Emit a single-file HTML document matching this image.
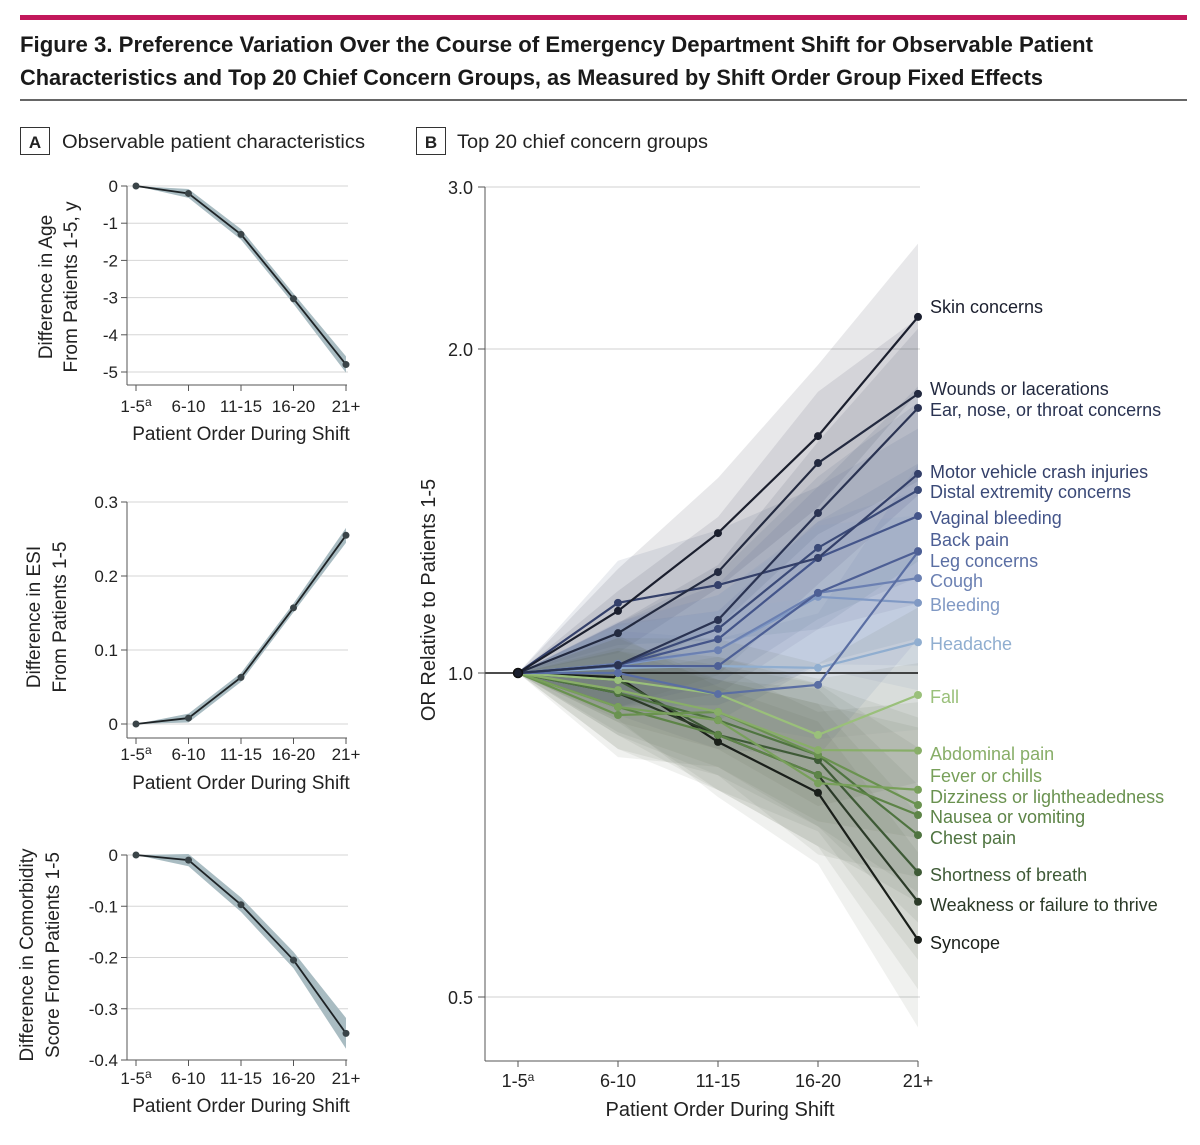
<!DOCTYPE html>
<html><head><meta charset="utf-8"><style>
body{margin:0;background:#fff;}
svg{display:block;font-family:"Liberation Sans",sans-serif;}
</style></head><body>
<svg id="fig" width="1200" height="1145" viewBox="0 0 1200 1145" xmlns="http://www.w3.org/2000/svg">
<rect x="20" y="15" width="1167" height="5" fill="#c2185b"/>
<text x="20" y="52" font-size="22" font-weight="bold" fill="#1a1a1a" textLength="1073" lengthAdjust="spacingAndGlyphs">Figure 3. Preference Variation Over the Course of Emergency Department Shift for Observable Patient</text>
<text x="20" y="85" font-size="22" font-weight="bold" fill="#1a1a1a" textLength="1023" lengthAdjust="spacingAndGlyphs">Characteristics and Top 20 Chief Concern Groups, as Measured by Shift Order Group Fixed Effects</text>
<line x1="20" y1="100" x2="1187" y2="100" stroke="#333" stroke-width="1.5"/>
<g>
<rect x="20.5" y="127.5" width="29" height="27" fill="#fff" stroke="#333"/>
<text x="35" y="148" font-size="17" font-weight="bold" text-anchor="middle" fill="#222">A</text>
<text x="62" y="148" font-size="19" fill="#222" textLength="303" lengthAdjust="spacingAndGlyphs">Observable patient characteristics</text>
</g>
<g>
<rect x="416.5" y="127.5" width="29" height="27" fill="#fff" stroke="#333"/>
<text x="431" y="148" font-size="17" font-weight="bold" text-anchor="middle" fill="#222">B</text>
<text x="457" y="148" font-size="19" fill="#222" textLength="251" lengthAdjust="spacingAndGlyphs">Top 20 chief concern groups</text>
</g>
<g id="pa"></g>
<g id="pb"></g>
</svg>
<script>
const NS='http://www.w3.org/2000/svg';
const categories=['1-5','6-10','11-15','16-20','21+'];
const ageValues=[0,-0.2,-1.3,-3.03,-4.8];
const ageCI=[0,0.12,0.14,0.14,0.22];
const ageTicks=[0,-1,-2,-3,-4,-5];
const esiValues=[0,0.008,0.063,0.157,0.255];
const esiCI=[0,0.006,0.006,0.006,0.01];
const esiTicks=[0,0.1,0.2,0.3];
const comValues=[0,-0.01,-0.097,-0.205,-0.348];
const comCI=[0,0.012,0.014,0.016,0.03];
const comTicks=[0,-0.1,-0.2,-0.3,-0.4];
const groupNames=['Skin concerns','Wounds or lacerations','Ear, nose, or throat concerns','Motor vehicle crash injuries','Distal extremity concerns','Vaginal bleeding','Back pain','Leg concerns','Cough','Bleeding','Headache','Fall','Abdominal pain','Fever or chills','Dizziness or lightheadedness','Nausea or vomiting','Chest pain','Shortness of breath','Weakness or failure to thrive','Syncope'];
const s1=[1,1,1,1,1,1,1,1,1,1,1,1,1,1,1,1,1,1,1,1];
const s2=[1.142,1.089,1.017,1.162,1.017,1.017,1.015,1.0,1.020,1.017,1.011,0.985,0.964,0.930,0.914,0.930,0.958,0.985,0.958,0.991];
const s3=[1.349,1.241,1.120,1.207,1.099,1.075,1.015,0.956,1.050,1.050,1.015,0.956,0.920,0.904,0.920,0.876,0.904,0.876,0.876,0.863];
const s4=[1.660,1.567,1.408,1.279,1.307,1.279,1.187,0.975,1.187,1.177,1.011,0.876,0.848,0.790,0.839,0.804,0.839,0.830,0.804,0.774];
const s5=[2.198,1.817,1.763,1.531,1.479,1.399,1.298,1.296,1.225,1.162,1.068,0.954,0.847,0.779,0.754,0.738,0.707,0.653,0.613,0.565];
const ciLog2=[0,0.13,0.17,0.22,0.27];
const bTicks=[0.5,1.0,2.0,3.0];
const labelY=[307,389,410,472,492,518,540,561,581,605,644,697,754,776,797,817,838,875,905,943];
const colors=['#1b1f2e','#232a40','#2a3352','#34406a','#3b4a78','#44558a','#4d5f95','#5a6ea3','#6b80b2','#8099c4','#90aed0','#9ac07a','#88ae68','#78a05a','#6a9250','#5d8447','#4f7440','#3e5a36','#2b3a28','#1a1f1a'];
function el(tag,attrs,parent){const e=document.createElementNS(NS,tag);for(const k in attrs)e.setAttribute(k,attrs[k]);parent.appendChild(e);return e;}
const pa=document.getElementById('pa'),pb=document.getElementById('pb');
const ax=[136,189,241,294,346];
function xA(i){return ax[0]+(ax[4]-ax[0])*i/(categories.length-1);}
function panelA(vals,ci,ticks,y0v,y0p,y1v,y1p,axTop,axBot,fmt,titles,tx,tcy,tickY,titleY,name){
  const y=v=>y0p+(v-y0v)*(y1p-y0p)/(y1v-y0v);
  const g=el('g',{},pa);
  
  
  ticks.forEach(t=>{
    const gl=el('line',{x1:127,x2:348,y1:y(t),y2:y(t),stroke:'#d6d6d6','stroke-width':1},g);
    
    
    el('line',{x1:121,x2:127,y1:y(t),y2:y(t),stroke:'#555'},g);
    const tl=el('text',{x:118,y:y(t)+6,'font-size':17,'text-anchor':'end',fill:'#222'},g);
    tl.textContent=fmt(t);
    
    
  });
  el('line',{x1:127,x2:127,y1:axTop,y2:axBot,stroke:'#555'},g);
  el('line',{x1:127,x2:347,y1:axBot,y2:axBot,stroke:'#555'},g);
  categories.forEach((c,i)=>{
    el('line',{x1:xA(i),x2:xA(i),y1:axBot,y2:axBot+6,stroke:'#555'},g);
    const tl=el('text',{x:xA(i),y:tickY,'font-size':17,'text-anchor':'middle',fill:'#222'},g);
    tl.textContent=c;
    if(i===0){const s=el('tspan',{'font-size':12,dy:-6},tl);s.textContent='a';}
    
    
  });
  const xt=el('text',{x:241,y:titleY,'font-size':19,'text-anchor':'middle',fill:'#222'},g);
  xt.textContent='Patient Order During Shift';
  
  
  titles.forEach((t,k)=>{
    const yt=el('text',{x:0,y:0,'font-size':19,'text-anchor':'middle',fill:'#222',transform:`translate(${tx[k]},${tcy}) rotate(-90)`},g);
    yt.textContent=t;
    
    
  });
  let up='';
  vals.forEach((v,i)=>{up+=(i?'L':'M')+xA(i)+','+y(v+ci[i]);});
  for(let i=vals.length-1;i>=0;i--)up+='L'+xA(i)+','+y(vals[i]-ci[i]);
  const band=el('path',{d:up+'Z',fill:'#a9bcc2'},g);
  
  
  const line=el('polyline',{points:vals.map((v,i)=>xA(i)+','+y(v)).join(' '),fill:'none',stroke:'#1e2326','stroke-width':1.8},g);
  
  
  vals.forEach((v,i)=>{
    const p=el('circle',{cx:xA(i),cy:y(v),r:3.5,fill:'#3a4448'},g);
    
    
  });
}
panelA(ageValues,ageCI,ageTicks,0,186,-5,372,186,385,t=>String(t),['Difference in Age','From Patients 1-5, y'],[52,77],287,412,440,'panel-a-age');
panelA(esiValues,esiCI,esiTicks,0,724,0.3,502,502,738,t=>t===0?'0':t.toFixed(1),['Difference in ESI','From Patients 1-5'],[40,66],617,760,789,'panel-a-esi');
panelA(comValues,comCI,comTicks,0,855,-0.4,1060,855,1060,t=>t===0?'0':t.toFixed(1),['Difference in Comorbidity','Score From Patients 1-5'],[33,59],955,1084,1112,'panel-a-comorbidity');
// Panel B
const bx=[518,618,718,818,918];
function xB(i){return bx[0]+(bx[4]-bx[0])*i/(categories.length-1);}
function yB(v){if(v<=2)return 673-324*Math.log2(v);return 349-(v-2)*162;}
const series=[s1,s2,s3,s4,s5];
const gb=el('g',{},pb);


bTicks.forEach(t=>{
  if(t!==1){const gl=el('line',{x1:485,x2:920,y1:yB(t),y2:yB(t),stroke:'#d0d0d0'},gb);
  
  }
  el('line',{x1:478,x2:485,y1:yB(t),y2:yB(t),stroke:'#555'},gb);
  const tl=el('text',{x:473,y:yB(t)+7,'font-size':18,'text-anchor':'end',fill:'#222'},gb);
  tl.textContent=t.toFixed(1);
  
  
});
const bands=el('g',{},gb);


groupNames.forEach((n,j)=>{
  const vals=series.map(s=>s[j]);
  let d='';
  vals.forEach((v,i)=>{d+=(i?'L':'M')+xB(i)+','+yB(v*Math.pow(2,ciLog2[i]));});
  for(let i=vals.length-1;i>=0;i--)d+='L'+xB(i)+','+yB(vals[i]/Math.pow(2,ciLog2[i]));
  const b=el('path',{d:d+'Z',fill:j>10?'#56604a':colors[j],'fill-opacity':j>10?0.09:0.1},bands);
  
  
});
const ref=el('line',{x1:485,x2:918,y1:yB(1),y2:yB(1),stroke:'#111','stroke-width':1.5},gb);


for(let j=groupNames.length-1;j>=0;j--){
  const vals=series.map(s=>s[j]);
  const g=el('g',{},gb);
  
  
  const pl=el('polyline',{points:vals.map((v,i)=>xB(i)+','+yB(v)).join(' '),fill:'none',stroke:colors[j],'stroke-width':2.2},g);
  
  
  vals.forEach((v,i)=>{
    const c=el('circle',{cx:xB(i),cy:yB(v),r:4,fill:colors[j]},g);
    
    
  });
  const lb=el('text',{x:930,y:labelY[j]+6,'font-size':18,fill:colors[j]},g);
  lb.textContent=groupNames[j];
  
  
}
el('circle',{cx:xB(0),cy:yB(1),r:4.5,fill:'none',stroke:'#111','stroke-width':1.5},gb);
el('line',{x1:485,x2:485,y1:187,y2:1061,stroke:'#555'},gb);
el('line',{x1:485,x2:918,y1:1061,y2:1061,stroke:'#555'},gb);
categories.forEach((c,i)=>{
  el('line',{x1:xB(i),x2:xB(i),y1:1061,y2:1067,stroke:'#555'},gb);
  const tl=el('text',{x:xB(i),y:1087,'font-size':18,'text-anchor':'middle',fill:'#222'},gb);
  tl.textContent=c;
  if(i===0){const s=el('tspan',{'font-size':12,dy:-6},tl);s.textContent='a';}
  
  
});
const bxt=el('text',{x:720,y:1116,'font-size':20,'text-anchor':'middle',fill:'#222'},gb);
bxt.textContent='Patient Order During Shift';


const byt=el('text',{x:0,y:0,'font-size':20,'text-anchor':'middle',fill:'#222',transform:'translate(435,600) rotate(-90)'},gb);
byt.textContent='OR Relative to Patients 1-5';


</script>
</body></html>
